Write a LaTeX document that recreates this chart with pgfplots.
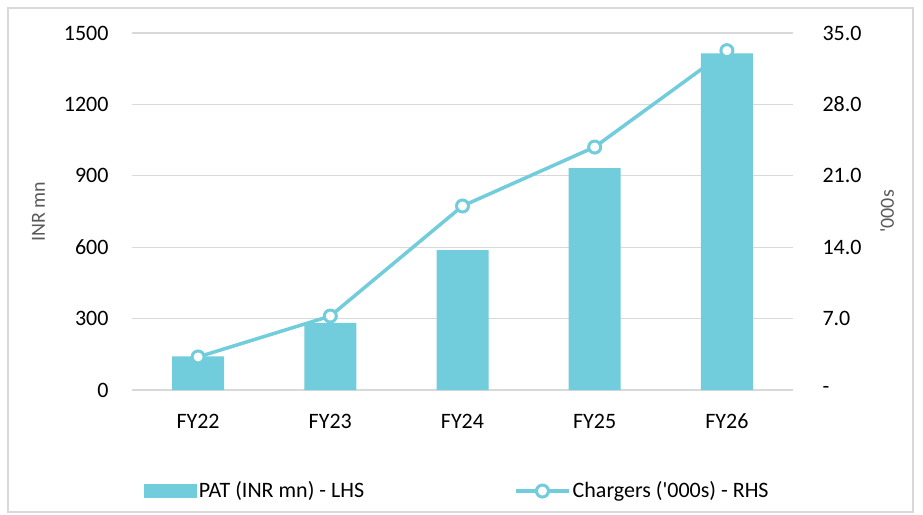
\documentclass[border=0pt]{standalone}
\usepackage{pgfplots}
\pgfplotsset{compat=1.18}
\usepackage{fontspec}
\setmainfont{Carlito}
\definecolor{barc}{HTML}{71CCDC}
\definecolor{gridc}{HTML}{D9D9D9}
\definecolor{labc}{HTML}{595959}
\begin{document}
\fontsize{22}{26}\selectfont
\begin{tikzpicture}
\path[use as bounding box] (-132pt,-124pt) rectangle (791pt,390pt);
\draw[gridc, line width=1.2pt] (-124pt,-122pt) rectangle (781pt,382pt);
\begin{axis}[
  scale only axis, width=661pt, height=357pt,
  xmin=-0.5, xmax=4.5, ymin=0, ymax=1500,
  xtick={0,1,2,3,4}, xticklabels={FY22,FY23,FY24,FY25,FY26},
  ytick={0,300,600,900,1200,1500},
  yticklabels={0,300,600,900,1200,1500},
  axis line style={draw=none},
  major tick length=0pt,
  ymajorgrids, grid style={gridc, line width=1.2pt},
  /pgf/number format/assume math mode=true,
  ticklabel style={font=\fontsize{22}{26}\selectfont, text=black},
  yticklabel style={xshift=-16pt},
  xticklabel style={yshift=-17pt, text depth=0pt, text height=14pt},
  ylabel={INR mn},
  ylabel style={font=\fontsize{20}{24}\selectfont, text=labc, yshift=4pt},
  clip=false,
]
\addplot[ybar, bar width=52pt, fill=barc, draw=none, bar shift=0pt] coordinates {(0,141) (1,282) (2,588) (3,932) (4,1414)};
\end{axis}
\begin{axis}[
  scale only axis, width=661pt, height=357pt,
  xmin=-0.5, xmax=4.5, ymin=0, ymax=35,
  axis y line*=right, axis x line=none,
  ytick={0,7,14,21,28,35},
  yticklabels={-,7.0,14.0,21.0,28.0,35.0},
  axis line style={draw=none},
  major tick length=0pt,
  ticklabel style={font=\fontsize{22}{26}\selectfont, text=black},
  yticklabel style={xshift=22pt},
  ylabel={\textquotesingle 000s},
  ylabel style={font=\fontsize{20}{24}\selectfont, text=labc, yshift=-4pt},
  clip=false,
  legend columns=2,
  legend style={draw=none, fill=none, at={(axis description cs:0.014,-0.283)}, anchor=west,
    font=\fontsize{22}{26}\selectfont, /tikz/every even column/.append style={column sep=148pt},
    nodes={inner sep=2pt}},
]
\addlegendimage{legend image code/.code={\fill[barc] (0pt,-6.5pt) rectangle (52pt,6.5pt);}}
\addlegendentry{PAT (INR mn) - LHS}
\addplot[barc, line width=3.5pt, mark=*, mark size=6pt, mark options={fill=white, draw=barc, line width=3pt},
  legend image code/.code={\draw[barc, line width=3.5pt] (0pt,0pt) -- (53pt,0pt); \draw[barc, fill=white, line width=3pt] (26.5pt,0pt) circle (6pt);}]
  coordinates {(0,3.24) (1,7.25) (2,18.04) (3,23.82) (4,33.27)};
\addlegendentry{Chargers (\textquotesingle 000s) - RHS}
\end{axis}
\end{tikzpicture}
\end{document}
